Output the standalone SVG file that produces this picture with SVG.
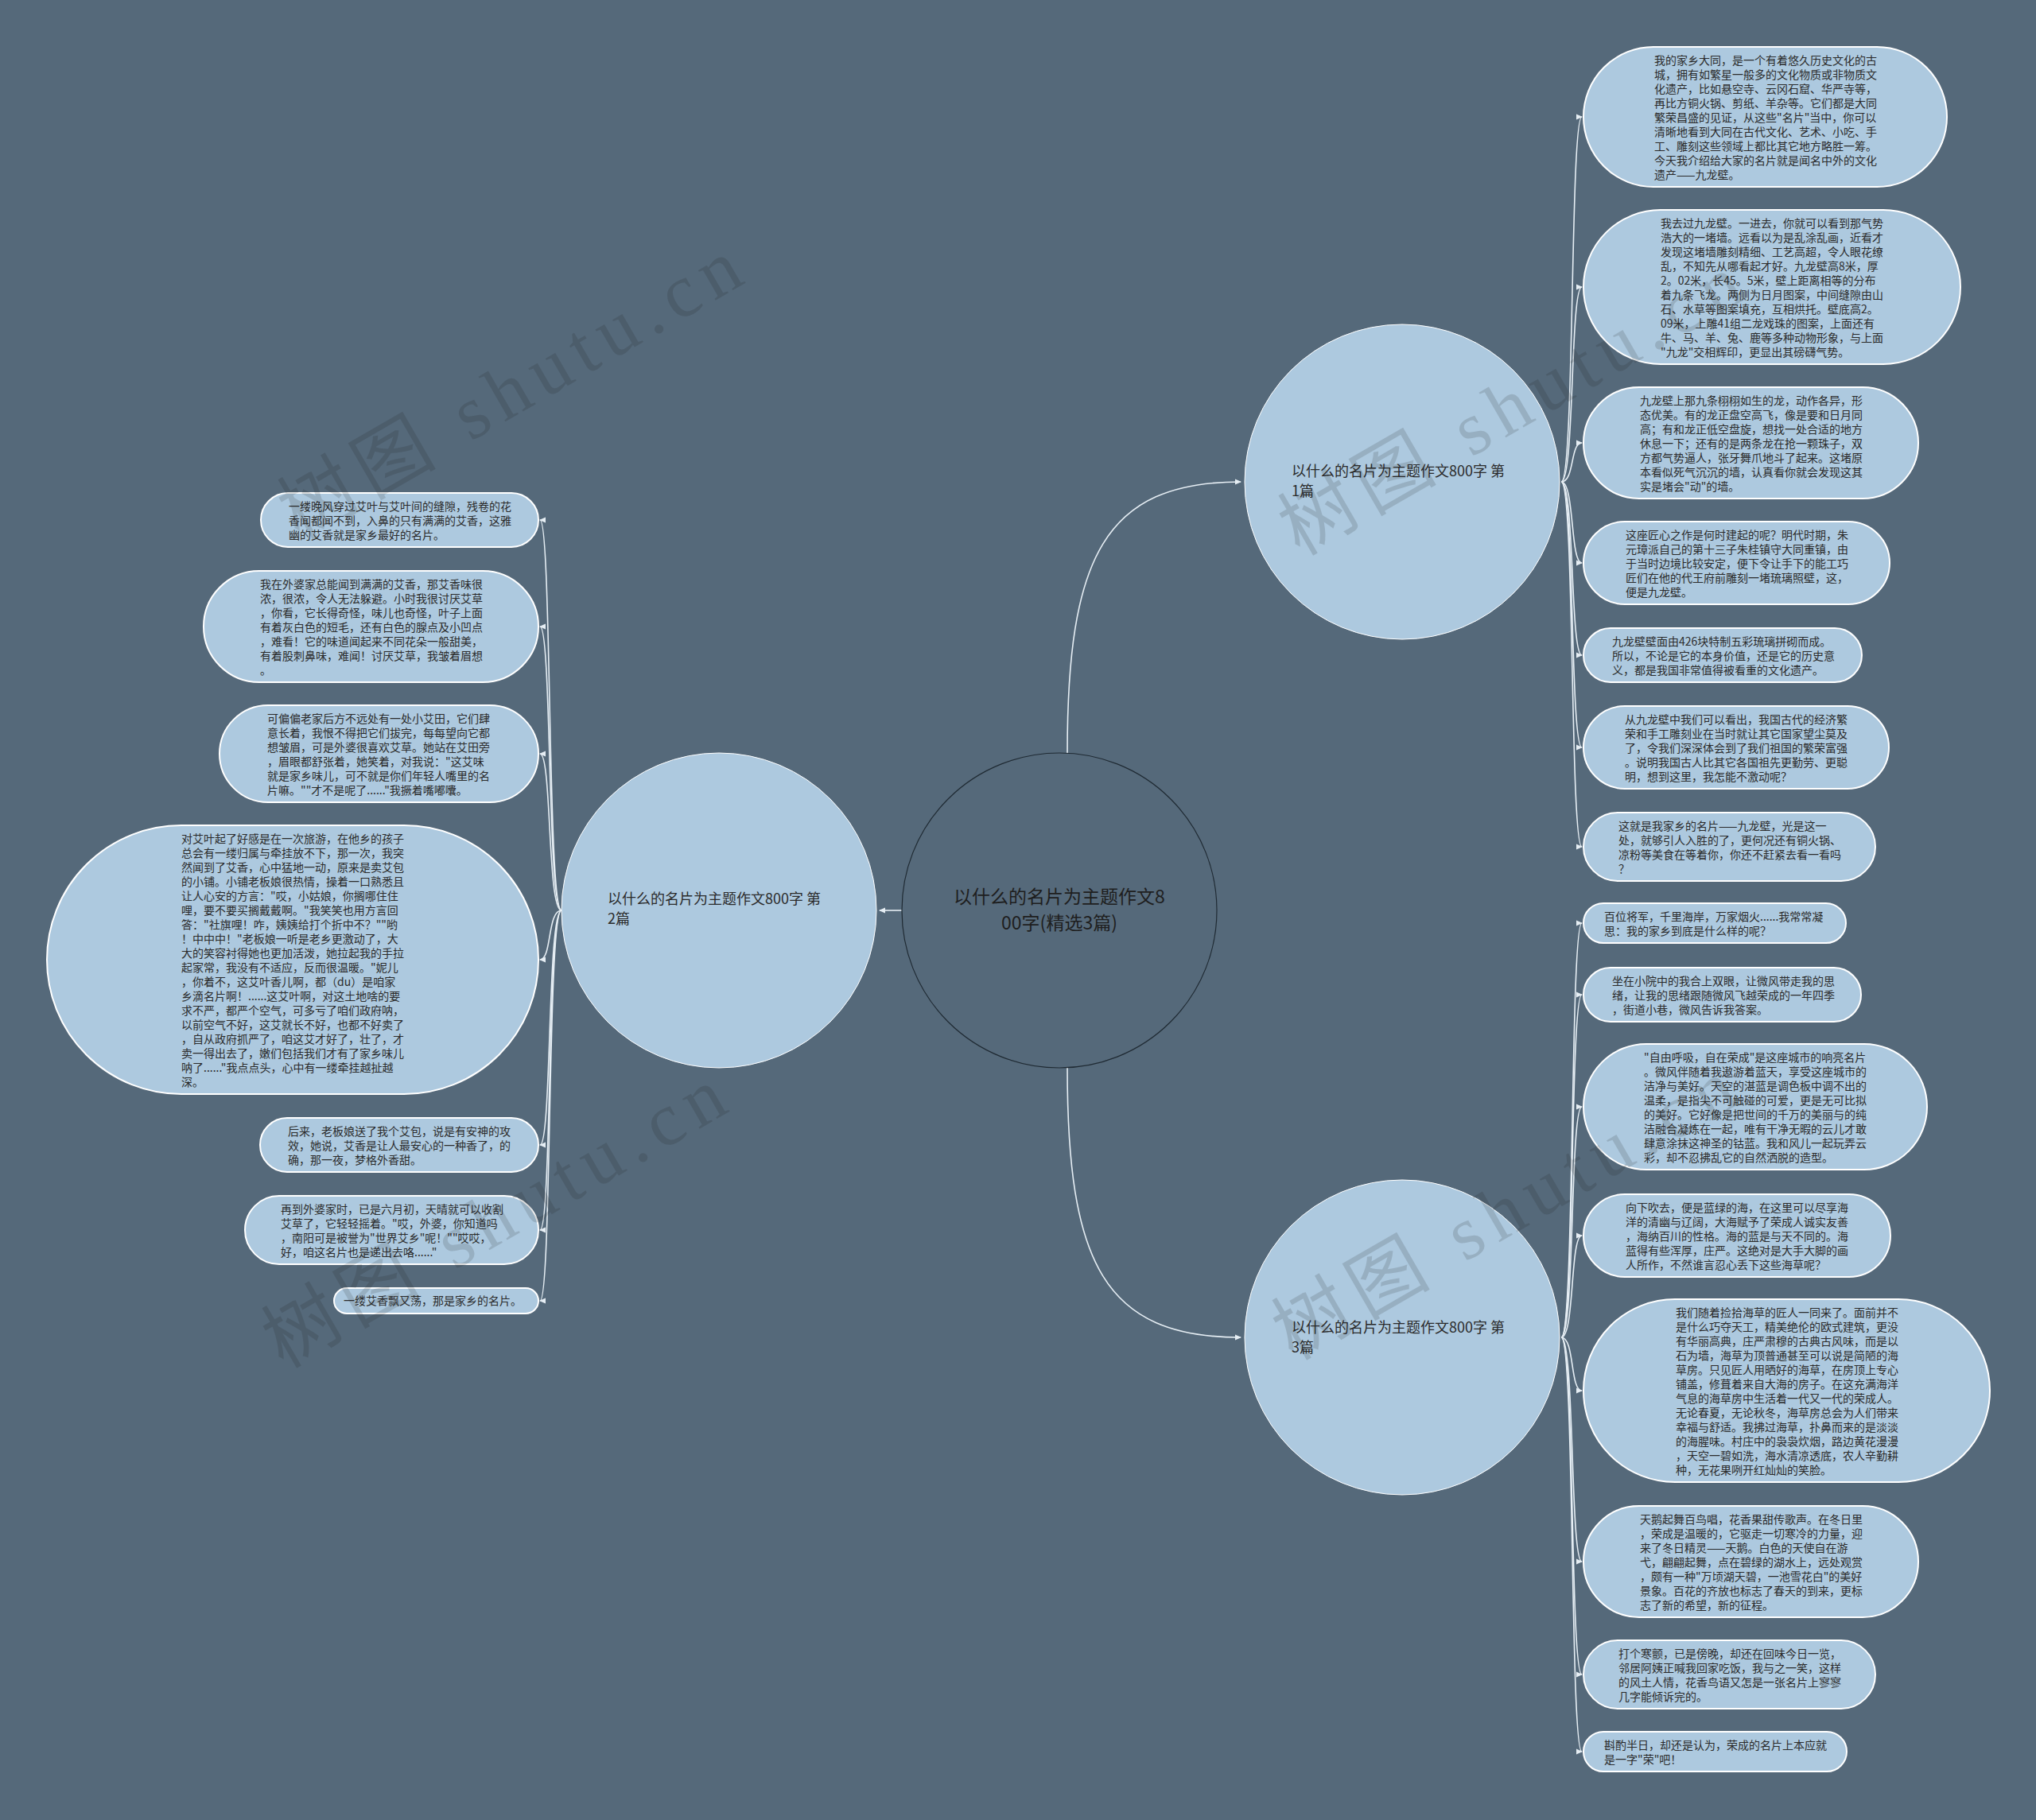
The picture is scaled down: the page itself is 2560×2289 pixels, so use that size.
<svg xmlns="http://www.w3.org/2000/svg" width="2560" height="2289" viewBox="0 0 2560 2289">
<defs>
<style>
.bg{fill:#55697a}
.leaf{fill:#adc9df;stroke:#ffffff;stroke-width:2}
.main{fill:#adc9df;stroke:#ffffff;stroke-width:1}
.t{font-family:"Noto Sans CJK SC","Noto Sans",sans-serif;font-size:14px;fill:#2b2b2b}
.mt{font-family:"Noto Sans CJK SC","Noto Sans",sans-serif;font-size:18px;fill:#2b2b2b}
.ct{font-family:"Noto Sans CJK SC","Noto Sans",sans-serif;font-size:23px;fill:#1e1e1e;text-anchor:middle}
.c{fill:none;stroke:#e6eef4;stroke-width:1.6}
.wm{font-family:"Liberation Serif","Noto Sans CJK SC",serif;font-size:95px;fill:#1a1a1a;fill-opacity:0.15}
</style>
<marker id="ar" markerWidth="8" markerHeight="8" refX="7" refY="4" orient="auto" markerUnits="userSpaceOnUse">
<path d="M0,0.5 L8,4 L0,7.5 z" fill="#e6eef4"/>
</marker>
</defs>
<rect class="bg" x="0" y="0" width="2560" height="2289"/>

<g id="connectors">
<path class="c" d="M1342 947 C1342 702 1388 606 1560 606" marker-end="url(#ar)"/>
<path class="c" d="M1342 1343 C1342 1588 1388 1682 1560 1682" marker-end="url(#ar)"/>
<path class="c" d="M1134 1145 L1106 1145" marker-end="url(#ar)"/>
<path class="c" d="M1963 606 C1980 606 1974 147 1989 147" marker-end="url(#ar)"/>
<path class="c" d="M1963 606 C1980 606 1974 361 1989 361" marker-end="url(#ar)"/>
<path class="c" d="M1963 606 C1980 606 1974 557 1989 557" marker-end="url(#ar)"/>
<path class="c" d="M1963 606 C1980 606 1974 708 1989 708" marker-end="url(#ar)"/>
<path class="c" d="M1963 606 C1980 606 1974 824 1989 824" marker-end="url(#ar)"/>
<path class="c" d="M1963 606 C1980 606 1974 940 1989 940" marker-end="url(#ar)"/>
<path class="c" d="M1963 606 C1980 606 1974 1065 1989 1065" marker-end="url(#ar)"/>
<path class="c" d="M1963 1682 C1980 1682 1974 1161 1989 1161" marker-end="url(#ar)"/>
<path class="c" d="M1963 1682 C1980 1682 1974 1251 1989 1251" marker-end="url(#ar)"/>
<path class="c" d="M1963 1682 C1980 1682 1974 1392 1989 1392" marker-end="url(#ar)"/>
<path class="c" d="M1963 1682 C1980 1682 1974 1554 1989 1554" marker-end="url(#ar)"/>
<path class="c" d="M1963 1682 C1980 1682 1974 1749 1989 1749" marker-end="url(#ar)"/>
<path class="c" d="M1963 1682 C1980 1682 1974 1964 1989 1964" marker-end="url(#ar)"/>
<path class="c" d="M1963 1682 C1980 1682 1974 2106 1989 2106" marker-end="url(#ar)"/>
<path class="c" d="M1963 1682 C1980 1682 1974 2203 1989 2203" marker-end="url(#ar)"/>
<path class="c" d="M706 1145 C688 1145 694 654 679 654" marker-end="url(#ar)"/>
<path class="c" d="M706 1145 C688 1145 694 788 679 788" marker-end="url(#ar)"/>
<path class="c" d="M706 1145 C688 1145 694 948 679 948" marker-end="url(#ar)"/>
<path class="c" d="M706 1145 C688 1145 694 1207 679 1207" marker-end="url(#ar)"/>
<path class="c" d="M706 1145 C688 1145 694 1440 679 1440" marker-end="url(#ar)"/>
<path class="c" d="M706 1145 C688 1145 694 1547 679 1547" marker-end="url(#ar)"/>
<path class="c" d="M706 1145 C688 1145 694 1636 679 1636" marker-end="url(#ar)"/>
</g>

<g id="center">
<circle cx="1332" cy="1145" r="198" fill="#55697a" stroke="#1f2a33" stroke-width="1.2"/>
<text class="ct" x="1332" y="1136">以什么的名片为主题作文8</text>
<text class="ct" x="1332" y="1169">00字(精选3篇)</text>
</g>

<g id="n1">
<circle class="main" cx="1763" cy="606" r="198"/>
<text class="mt" x="1624" y="599">以什么的名片为主题作文800字 第<tspan x="1624" dy="24.5">1篇</tspan></text>
</g>
<g id="n2">
<circle class="main" cx="904" cy="1145" r="198"/>
<text class="mt" x="764" y="1137">以什么的名片为主题作文800字 第<tspan x="764" dy="24.5">2篇</tspan></text>
</g>
<g id="n3">
<circle class="main" cx="1763" cy="1682" r="198"/>
<text class="mt" x="1624" y="1676">以什么的名片为主题作文800字 第<tspan x="1624" dy="24.5">3篇</tspan></text>
</g>

<g id="r1">
<rect class="leaf" x="1991" y="59" width="457" height="176" rx="88"/>
<text class="t" x="2080" y="81"><tspan x="2080" dy="0">我的家乡大同，是一个有着悠久历史文化的古</tspan><tspan x="2080" dy="18">城，拥有如繁星一般多的文化物质或非物质文</tspan><tspan x="2080" dy="18">化遗产，比如悬空寺、云冈石窟、华严寺等，</tspan><tspan x="2080" dy="18">再比方铜火锅、剪纸、羊杂等。它们都是大同</tspan><tspan x="2080" dy="18">繁荣昌盛的见证，从这些"名片"当中，你可以</tspan><tspan x="2080" dy="18">清晰地看到大同在古代文化、艺术、小吃、手</tspan><tspan x="2080" dy="18">工、雕刻这些领域上都比其它地方略胜一筹。</tspan><tspan x="2080" dy="18">今天我介绍给大家的名片就是闻名中外的文化</tspan><tspan x="2080" dy="18">遗产——九龙壁。</tspan></text>
</g>
<g id="r2">
<rect class="leaf" x="1991" y="264" width="474" height="194" rx="97"/>
<text class="t" x="2088" y="286"><tspan x="2088" dy="0">我去过九龙壁。一进去，你就可以看到那气势</tspan><tspan x="2088" dy="18">浩大的一堵墙。远看以为是乱涂乱画，近看才</tspan><tspan x="2088" dy="18">发现这堵墙雕刻精细、工艺高超，令人眼花缭</tspan><tspan x="2088" dy="18">乱，不知先从哪看起才好。九龙壁高8米，厚</tspan><tspan x="2088" dy="18">2。02米，长45。5米，壁上距离相等的分布</tspan><tspan x="2088" dy="18">着九条飞龙。两侧为日月图案，中间缝隙由山</tspan><tspan x="2088" dy="18">石、水草等图案填充，互相烘托。壁底高2。</tspan><tspan x="2088" dy="18">09米，上雕41组二龙戏珠的图案，上面还有</tspan><tspan x="2088" dy="18">牛、马、羊、兔、鹿等多种动物形象，与上面</tspan><tspan x="2088" dy="18">"九龙"交相辉印，更显出其磅礴气势。</tspan></text>
</g>
<g id="r3">
<rect class="leaf" x="1991" y="487" width="421" height="140" rx="70"/>
<text class="t" x="2062" y="509"><tspan x="2062" dy="0">九龙壁上那九条栩栩如生的龙，动作各异，形</tspan><tspan x="2062" dy="18">态优美。有的龙正盘空高飞，像是要和日月同</tspan><tspan x="2062" dy="18">高；有和龙正低空盘旋，想找一处合适的地方</tspan><tspan x="2062" dy="18">休息一下；还有的是两条龙在抢一颗珠子，双</tspan><tspan x="2062" dy="18">方都气势逼人，张牙舞爪地斗了起来。这堵原</tspan><tspan x="2062" dy="18">本看似死气沉沉的墙，认真看你就会发现这其</tspan><tspan x="2062" dy="18">实是堵会"动"的墙。</tspan></text>
</g>
<g id="r4">
<rect class="leaf" x="1991" y="656" width="385" height="104" rx="52"/>
<text class="t" x="2044" y="678"><tspan x="2044" dy="0">这座匠心之作是何时建起的呢？明代时期，朱</tspan><tspan x="2044" dy="18">元璋派自己的第十三子朱桂镇守大同重镇，由</tspan><tspan x="2044" dy="18">于当时边境比较安定，便下令让手下的能工巧</tspan><tspan x="2044" dy="18">匠们在他的代王府前雕刻一堵琉璃照壁，这，</tspan><tspan x="2044" dy="18">便是九龙壁。</tspan></text>
</g>
<g id="r5">
<rect class="leaf" x="1991" y="790" width="350" height="68" rx="34"/>
<text class="t" x="2027" y="812"><tspan x="2027" dy="0">九龙壁壁面由426块特制五彩琉璃拼砌而成。</tspan><tspan x="2027" dy="18">所以，不论是它的本身价值，还是它的历史意</tspan><tspan x="2027" dy="18">义，都是我国非常值得被看重的文化遗产。</tspan></text>
</g>
<g id="r6">
<rect class="leaf" x="1991" y="888" width="384" height="104" rx="52"/>
<text class="t" x="2043" y="910"><tspan x="2043" dy="0">从九龙壁中我们可以看出，我国古代的经济繁</tspan><tspan x="2043" dy="18">荣和手工雕刻业在当时就让其它国家望尘莫及</tspan><tspan x="2043" dy="18">了，令我们深深体会到了我们祖国的繁荣富强</tspan><tspan x="2043" dy="18">。说明我国古人比其它各国祖先更勤劳、更聪</tspan><tspan x="2043" dy="18">明，想到这里，我怎能不激动呢？</tspan></text>
</g>
<g id="r7">
<rect class="leaf" x="1991" y="1022" width="367" height="86" rx="43"/>
<text class="t" x="2035" y="1044"><tspan x="2035" dy="0">这就是我家乡的名片——九龙壁，光是这一</tspan><tspan x="2035" dy="18">处，就够引人入胜的了，更何况还有铜火锅、</tspan><tspan x="2035" dy="18">凉粉等美食在等着你，你还不赶紧去看一看吗</tspan><tspan x="2035" dy="18">？</tspan></text>
</g>
<g id="r8">
<rect class="leaf" x="1991" y="1136" width="330" height="50" rx="25"/>
<text class="t" x="2017" y="1158"><tspan x="2017" dy="0">百位将军，千里海岸，万家烟火......我常常凝</tspan><tspan x="2017" dy="18">思：我的家乡到底是什么样的呢？</tspan></text>
</g>
<g id="r9">
<rect class="leaf" x="1991" y="1217" width="349" height="68" rx="34"/>
<text class="t" x="2027" y="1239"><tspan x="2027" dy="0">坐在小院中的我合上双眼，让微风带走我的思</tspan><tspan x="2027" dy="18">绪，让我的思绪跟随微风飞越荣成的一年四季</tspan><tspan x="2027" dy="18">，街道小巷，微风告诉我答案。</tspan></text>
</g>
<g id="r10">
<rect class="leaf" x="1991" y="1313" width="432" height="158" rx="79"/>
<text class="t" x="2067" y="1335"><tspan x="2067" dy="0">"自由呼吸，自在荣成"是这座城市的响亮名片</tspan><tspan x="2067" dy="18">。微风伴随着我遨游着蓝天，享受这座城市的</tspan><tspan x="2067" dy="18">洁净与美好。天空的湛蓝是调色板中调不出的</tspan><tspan x="2067" dy="18">温柔，是指尖不可触碰的可爱，更是无可比拟</tspan><tspan x="2067" dy="18">的美好。它好像是把世间的千万的美丽与的纯</tspan><tspan x="2067" dy="18">洁融合凝炼在一起，唯有干净无暇的云儿才敢</tspan><tspan x="2067" dy="18">肆意涂抹这神圣的钴蓝。我和风儿一起玩弄云</tspan><tspan x="2067" dy="18">彩，却不忍拂乱它的自然洒脱的造型。</tspan></text>
</g>
<g id="r11">
<rect class="leaf" x="1991" y="1502" width="386" height="104" rx="52"/>
<text class="t" x="2044" y="1524"><tspan x="2044" dy="0">向下吹去，便是蓝绿的海，在这里可以尽享海</tspan><tspan x="2044" dy="18">洋的清幽与辽阔，大海赋予了荣成人诚实友善</tspan><tspan x="2044" dy="18">，海纳百川的性格。海的蓝是与天不同的。海</tspan><tspan x="2044" dy="18">蓝得有些浑厚，庄严。这绝对是大手大脚的画</tspan><tspan x="2044" dy="18">人所作，不然谁言忍心丢下这些海草呢？</tspan></text>
</g>
<g id="r12">
<rect class="leaf" x="1991" y="1634" width="511" height="230" rx="115"/>
<text class="t" x="2107" y="1656"><tspan x="2107" dy="0">我们随着捡拾海草的匠人一同来了。面前并不</tspan><tspan x="2107" dy="18">是什么巧夺天工，精美绝伦的欧式建筑，更没</tspan><tspan x="2107" dy="18">有华丽高典，庄严肃穆的古典古风味，而是以</tspan><tspan x="2107" dy="18">石为墙，海草为顶普通甚至可以说是简陋的海</tspan><tspan x="2107" dy="18">草房。只见匠人用晒好的海草，在房顶上专心</tspan><tspan x="2107" dy="18">铺盖，修葺着来自大海的房子。在这充满海洋</tspan><tspan x="2107" dy="18">气息的海草房中生活着一代又一代的荣成人。</tspan><tspan x="2107" dy="18">无论春夏，无论秋冬，海草房总会为人们带来</tspan><tspan x="2107" dy="18">幸福与舒适。我拂过海草，扑鼻而来的是淡淡</tspan><tspan x="2107" dy="18">的海腥味。村庄中的袅袅炊烟，路边黄花漫漫</tspan><tspan x="2107" dy="18">，天空一碧如洗，海水清凉透底，农人辛勤耕</tspan><tspan x="2107" dy="18">种，无花果咧开红灿灿的笑脸。</tspan></text>
</g>
<g id="r13">
<rect class="leaf" x="1991" y="1894" width="421" height="140" rx="70"/>
<text class="t" x="2062" y="1916"><tspan x="2062" dy="0">天鹅起舞百鸟唱，花香果甜传歌声。在冬日里</tspan><tspan x="2062" dy="18">，荣成是温暖的，它驱走一切寒冷的力量，迎</tspan><tspan x="2062" dy="18">来了冬日精灵——天鹅。白色的天使自在游</tspan><tspan x="2062" dy="18">弋，翩翩起舞，点在碧绿的湖水上，远处观赏</tspan><tspan x="2062" dy="18">，颇有一种"万顷湖天碧，一池雪花白"的美好</tspan><tspan x="2062" dy="18">景象。百花的齐放也标志了春天的到来，更标</tspan><tspan x="2062" dy="18">志了新的希望，新的征程。</tspan></text>
</g>
<g id="r14">
<rect class="leaf" x="1991" y="2063" width="367" height="86" rx="43"/>
<text class="t" x="2035" y="2085"><tspan x="2035" dy="0">打个寒颤，已是傍晚，却还在回味今日一览，</tspan><tspan x="2035" dy="18">邻居阿姨正喊我回家吃饭，我与之一笑，这样</tspan><tspan x="2035" dy="18">的风土人情，花香鸟语又怎是一张名片上寥寥</tspan><tspan x="2035" dy="18">几字能倾诉完的。</tspan></text>
</g>
<g id="r15">
<rect class="leaf" x="1991" y="2178" width="331" height="50" rx="25"/>
<text class="t" x="2017" y="2200"><tspan x="2017" dy="0">斟酌半日，却还是认为，荣成的名片上本应就</tspan><tspan x="2017" dy="18">是一字"荣"吧！</tspan></text>
</g>

<g id="l1">
<rect class="leaf" x="328" y="620" width="349" height="68" rx="34"/>
<text class="t" x="363" y="642"><tspan x="363" dy="0">一缕晚风穿过艾叶与艾叶间的缝隙，残卷的花</tspan><tspan x="363" dy="18">香闻都闻不到，入鼻的只有满满的艾香，这雅</tspan><tspan x="363" dy="18">幽的艾香就是家乡最好的名片。</tspan></text>
</g>
<g id="l2">
<rect class="leaf" x="256" y="718" width="421" height="140" rx="70"/>
<text class="t" x="327" y="740"><tspan x="327" dy="0">我在外婆家总能闻到满满的艾香，那艾香味很</tspan><tspan x="327" dy="18">浓，很浓，令人无法躲避。小时我很讨厌艾草</tspan><tspan x="327" dy="18">，你看，它长得奇怪，味儿也奇怪，叶子上面</tspan><tspan x="327" dy="18">有着灰白色的短毛，还有白色的腺点及小凹点</tspan><tspan x="327" dy="18">，难看！它的味道闻起来不同花朵一般甜美，</tspan><tspan x="327" dy="18">有着股刺鼻味，难闻！讨厌艾草，我皱着眉想</tspan><tspan x="327" dy="18">。</tspan></text>
</g>
<g id="l3">
<rect class="leaf" x="276" y="887" width="401" height="122" rx="61"/>
<text class="t" x="336" y="909"><tspan x="336" dy="0">可偏偏老家后方不远处有一处小艾田，它们肆</tspan><tspan x="336" dy="18">意长着，我恨不得把它们拔完，每每望向它都</tspan><tspan x="336" dy="18">想皱眉，可是外婆很喜欢艾草。她站在艾田旁</tspan><tspan x="336" dy="18">，眉眼都舒张着，她笑着，对我说："这艾味</tspan><tspan x="336" dy="18">就是家乡味儿，可不就是你们年轻人嘴里的名</tspan><tspan x="336" dy="18">片嘛。""才不是呢了......"我撅着嘴嘟囔。</tspan></text>
</g>
<g id="l4">
<rect class="leaf" x="59" y="1038" width="618" height="338" rx="169"/>
<text class="t" x="228" y="1060"><tspan x="228" dy="0">对艾叶起了好感是在一次旅游，在他乡的孩子</tspan><tspan x="228" dy="18">总会有一缕归属与牵挂放不下，那一次，我突</tspan><tspan x="228" dy="18">然闻到了艾香，心中猛地一动，原来是卖艾包</tspan><tspan x="228" dy="18">的小铺。小铺老板娘很热情，操着一口熟悉且</tspan><tspan x="228" dy="18">让人心安的方言："哎，小姑娘，你搁哪住住</tspan><tspan x="228" dy="18">哩，要不要买搁戴戴啊。"我笑笑也用方言回</tspan><tspan x="228" dy="18">答："社旗哩！咋，姨姨给打个折中不？""哟</tspan><tspan x="228" dy="18">！中中中！"老板娘一听是老乡更激动了，大</tspan><tspan x="228" dy="18">大的笑容衬得她也更加活泼，她拉起我的手拉</tspan><tspan x="228" dy="18">起家常，我没有不适应，反而很温暖。"妮儿</tspan><tspan x="228" dy="18">，你着不，这艾叶香儿啊，都（du）是咱家</tspan><tspan x="228" dy="18">乡滴名片啊！......这艾叶啊，对这土地啥的要</tspan><tspan x="228" dy="18">求不严，都严个空气，可多亏了咱们政府呐，</tspan><tspan x="228" dy="18">以前空气不好，这艾就长不好，也都不好卖了</tspan><tspan x="228" dy="18">，自从政府抓严了，咱这艾才好了，壮了，才</tspan><tspan x="228" dy="18">卖一得出去了，嫩们包括我们才有了家乡味儿</tspan><tspan x="228" dy="18">呐了......"我点点头，心中有一缕牵挂越扯越</tspan><tspan x="228" dy="18">深。</tspan></text>
</g>
<g id="l5">
<rect class="leaf" x="327" y="1406" width="350" height="68" rx="34"/>
<text class="t" x="362" y="1428"><tspan x="362" dy="0">后来，老板娘送了我个艾包，说是有安神的攻</tspan><tspan x="362" dy="18">效，她说，艾香是让人最安心的一种香了，的</tspan><tspan x="362" dy="18">确，那一夜，梦格外香甜。</tspan></text>
</g>
<g id="l6">
<rect class="leaf" x="308" y="1504" width="369" height="86" rx="43"/>
<text class="t" x="353" y="1526"><tspan x="353" dy="0">再到外婆家时，已是六月初，天晴就可以收割</tspan><tspan x="353" dy="18">艾草了，它轻轻摇着。"哎，外婆，你知道吗</tspan><tspan x="353" dy="18">，南阳可是被誉为"世界艾乡"呢！""哎哎，</tspan><tspan x="353" dy="18">好，咱这名片也是递出去咯......"</tspan></text>
</g>
<g id="l7">
<rect class="leaf" x="420" y="1620" width="257" height="32" rx="16"/>
<text class="t" x="432" y="1641">一缕艾香飘又荡，那是家乡的名片。</text>
</g>

<g id="watermarks">
<text class="wm" transform="translate(376 680) rotate(-30)" textLength="650" lengthAdjust="spacing">树图 shutu.cn</text>
<text class="wm" transform="translate(1634 700) rotate(-30)" textLength="650" lengthAdjust="spacing">树图 shutu.cn</text>
<text class="wm" transform="translate(356 1722) rotate(-30)" textLength="650" lengthAdjust="spacing">树图 shutu.cn</text>
<text class="wm" transform="translate(1626 1712) rotate(-30)" textLength="650" lengthAdjust="spacing">树图 shutu.cn</text>
</g>
</svg>
